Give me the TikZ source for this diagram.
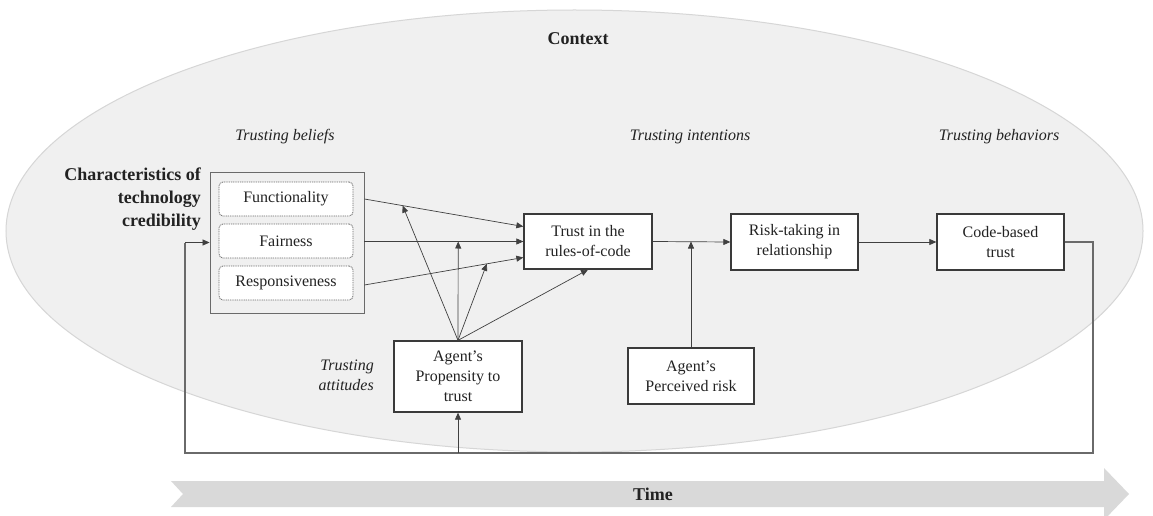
\documentclass[tikz,border=0pt]{standalone}
\usepackage{fontspec}
\setmainfont{Liberation Serif}
\usetikzlibrary{arrows.meta,calc}
\definecolor{ellfill}{HTML}{F0F0F0}
\definecolor{elldraw}{HTML}{D6D6D6}
\definecolor{boxline}{HTML}{3A3A3A}
\definecolor{txt}{HTML}{222222}
\definecolor{arrline}{HTML}{404040}
\definecolor{fbline}{HTML}{6A6A6A}
\definecolor{timefill}{HTML}{D9D9D9}
\begin{document}
\begin{tikzpicture}[x=1pt,y=-1pt,
  boxnode/.style={draw=boxline, line width=1.3pt, fill=white, align=center, inner sep=0pt,
    text=txt, font=\fontsize{16}{20}\selectfont},
  bignode/.style={draw=fbline, line width=0.9pt, inner sep=0pt},
  subnode/.style={draw=fbline, line width=0.8pt, dash pattern=on 1pt off 0.8pt, rounded corners=4pt,
    fill=white, inner sep=0pt, minimum width=134pt, minimum height=34pt, text=txt,
    font=\fontsize{16}{20}\selectfont},
  stagenode/.style={text=txt, font=\fontsize{16}{20}\selectfont\itshape, align=right, inner sep=0pt},
  boldnode/.style={text=txt, font=\fontsize{18}{23}\selectfont\bfseries, align=right, inner sep=0pt},
  arr/.style={draw=arrline, line width=0.7pt, -{Triangle[length=7pt,width=6pt]}},
  fb/.style={draw=fbline, line width=1.1pt}
]
\useasboundingbox (0,0) rectangle (1153,516);
\fill[white] (0,0) rectangle (1153,516);
% context ellipse
\draw[fill=ellfill, draw=elldraw, line width=1pt] (574.5,231) ellipse [x radius=568.5pt, y radius=221pt];
% time arrow
\fill[timefill] (171,481) -- (1104,481) -- (1104,468) -- (1129,494) -- (1104,520) -- (1104,507) -- (171,507) -- (183,494) -- cycle;
\node[boldnode, font=\fontsize{18}{22}\selectfont\bfseries] (time) at (653,494) {Time};
% labels
\node[boldnode] (context) at (578,39) {Context};
\node[stagenode] (tbel) at (285,137) {Trusting beliefs};
\node[stagenode] (tint) at (690,137) {Trusting intentions};
\node[stagenode] (tbeh) at (999,137) {Trusting behaviors};
\node[boldnode, anchor=east] (charac) at (201,199) {Characteristics of\\technology\\credibility};
\node[stagenode, anchor=east] (tatt) at (374,375) {Trusting\\attitudes};
% belief box
\node[bignode, minimum width=154pt, minimum height=141pt] (big) at (287,242.5) {};
\node[subnode] (func) at (286,199) {Functionality};
\node[subnode] (fair) at (286,241) {Fairness};
\node[subnode] (resp) at (286,283) {Responsiveness};
% main boxes
\node[boxnode, minimum width=128pt, minimum height=55pt] (trust) at (588,241.5) {Trust in the\\rules-of-code};
\node[boxnode, minimum width=127pt, minimum height=56pt] (risk) at (794.5,242) {Risk-taking in\\relationship};
\node[boxnode, minimum width=127pt, minimum height=56pt] (code) at (1000.5,242) {Code-based\\trust};
\node[boxnode, minimum width=128pt, minimum height=71pt] (prop) at (458,376.5) {Agent’s\\Propensity to\\trust};
\node[boxnode, minimum width=126pt, minimum height=56pt] (perc) at (691,376) {Agent’s\\Perceived risk};
% belief arrows
\coordinate (fs) at (big.east |- func);
\coordinate (fe) at ($(trust.west)+(0,-15)$);
\coordinate (as) at (big.east |- trust.west);
\coordinate (ae) at (trust.west);
\coordinate (rs) at ($(big.east |- resp)+(0,2)$);
\coordinate (re) at ($(trust.west)+(0,16)$);
\draw[arr] (fs) -- (fe);
\draw[arr] (as) -- (ae);
\draw[arr] (rs) -- (re);
% moderation arrows
\draw[arr] (prop.north) -- ($(fs)!0.24!(fe)$);
\draw[arr] (prop.north) -- ($(as)!0.59!(ae)$);
\draw[arr] (prop.north) -- ($(rs)!0.77!(re)$);
\draw[arr] (prop.north) -- (trust.south);
% main chain
\draw[arr] (trust.east) -- (risk.west);
\draw[arr] (risk.east) -- (code.west);
\draw[arr] (perc.north) -- (perc.north |- trust.east);
% feedback loop
\coordinate (c1) at (1093,242);
\coordinate (c2) at (1093,453);
\coordinate (c3) at (185,453);
\draw[fb] (code.east) -- (c1) -- (c2) -- (c3) -- (c3 |- big.west);
\draw[arr] (c3 |- big.west) -- (big.west);
\draw[arr] (prop.south |- c3) -- (prop.south);
\end{tikzpicture}
\end{document}
